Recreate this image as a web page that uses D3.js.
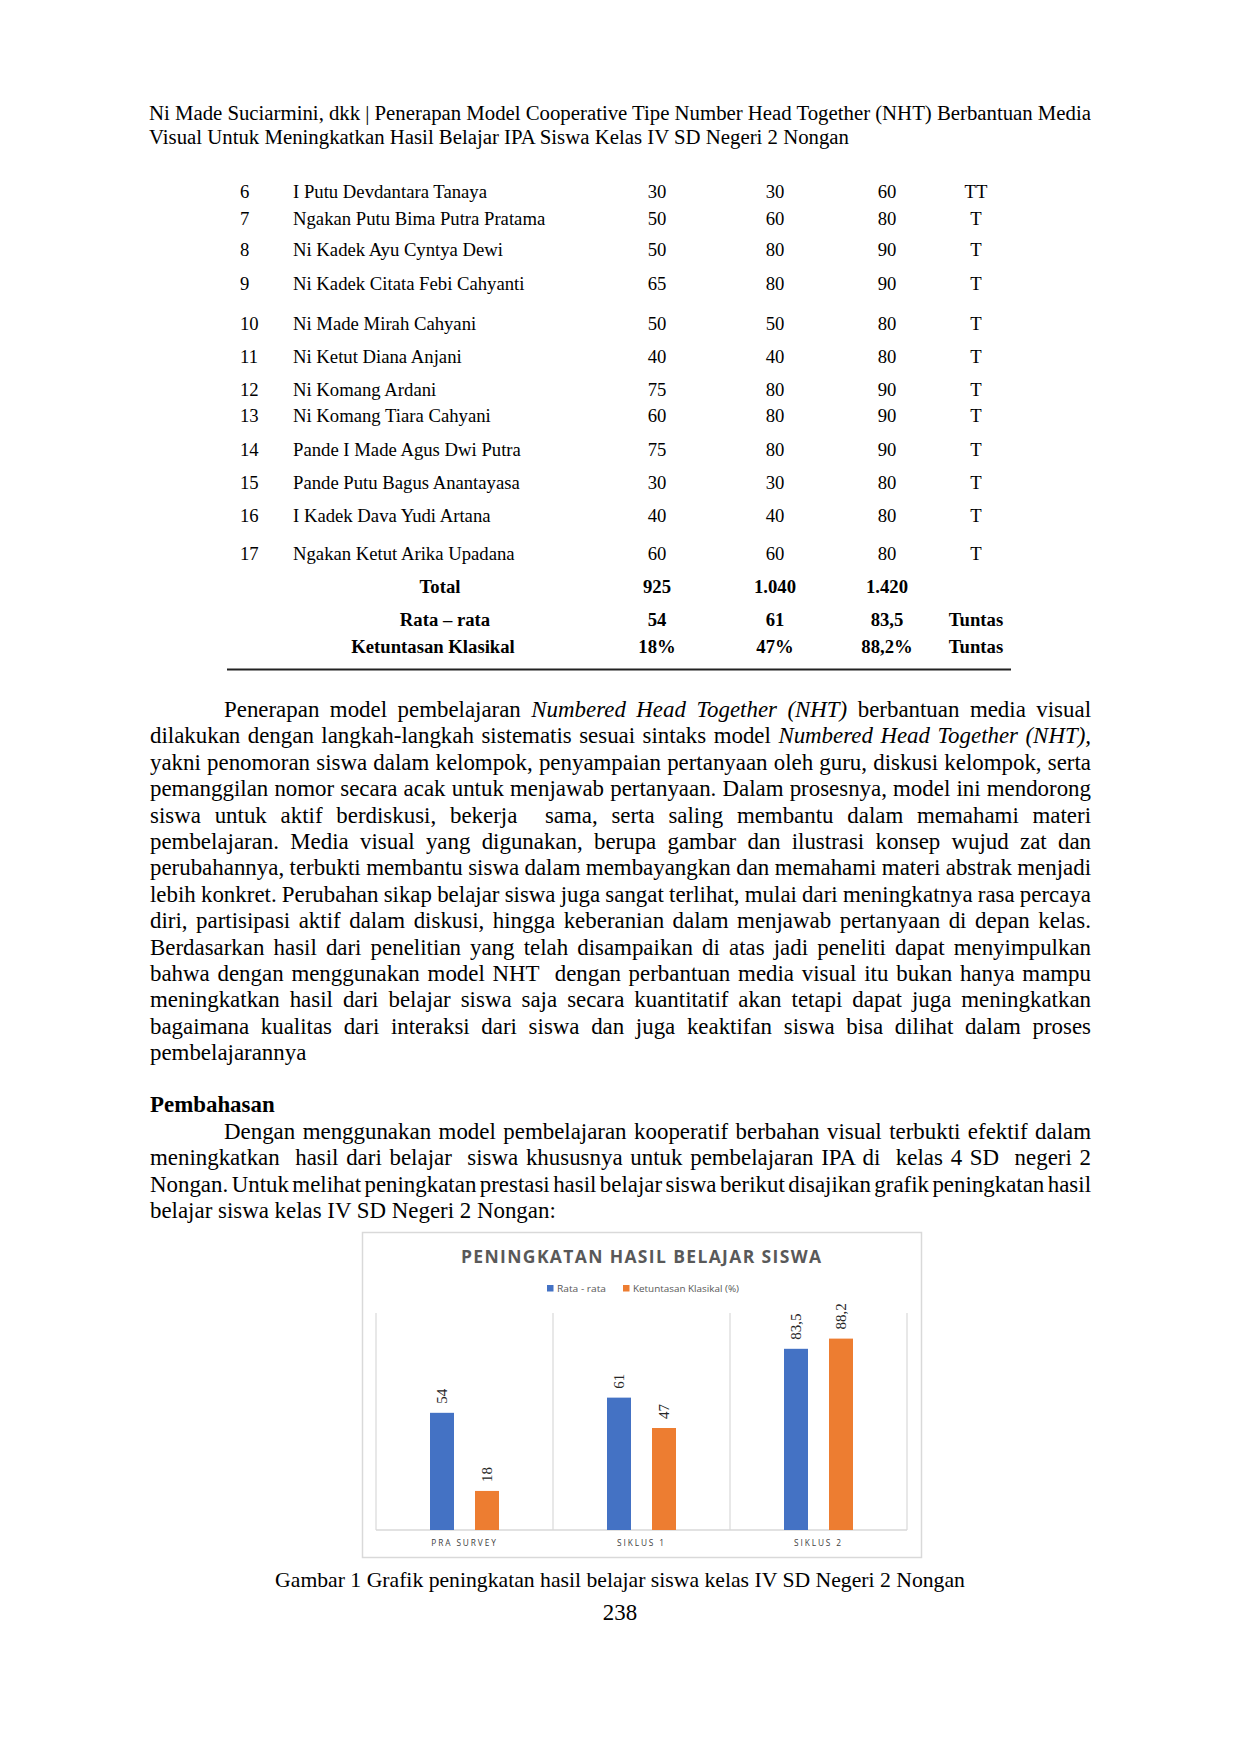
<!DOCTYPE html>
<html>
<head>
<meta charset="utf-8">
<script src="https://cdn.jsdelivr.net/npm/d3@7/dist/d3.min.js"></script>
<style>
  html, body { margin: 0; padding: 0; background: #fff; }
  svg { display: block; }
  text { white-space: pre; }
</style>
</head>
<body>
<script>
// ---------------- DATA ----------------
const headerLines = [
  "Ni Made Suciarmini, dkk | Penerapan Model Cooperative Tipe Number Head Together (NHT) Berbantuan Media",
  "Visual Untuk Meningkatkan Hasil Belajar IPA Siswa Kelas IV SD Negeri 2 Nongan"
];

const rowNumbers = [6, 7, 8, 9, 10, 11, 12, 13, 14, 15, 16, 17];
const studentNames = [
  "I Putu Devdantara Tanaya",
  "Ngakan Putu Bima Putra Pratama",
  "Ni Kadek Ayu Cyntya Dewi",
  "Ni Kadek Citata Febi Cahyanti",
  "Ni Made Mirah Cahyani",
  "Ni Ketut Diana Anjani",
  "Ni Komang Ardani",
  "Ni Komang Tiara Cahyani",
  "Pande I Made Agus Dwi Putra",
  "Pande Putu Bagus Anantayasa",
  "I Kadek Dava Yudi Artana",
  "Ngakan Ketut Arika Upadana"
];
const praSurveyScores = [30, 50, 50, 65, 50, 40, 75, 60, 75, 30, 40, 60];
const siklus1Scores   = [30, 60, 80, 80, 50, 40, 80, 80, 80, 30, 40, 60];
const siklus2Scores   = [60, 80, 90, 90, 80, 80, 90, 90, 90, 80, 80, 80];
const ketuntasanCodes = ["TT", "T", "T", "T", "T", "T", "T", "T", "T", "T", "T", "T"];

const summaryLabels = ["Total", "Rata \u2013 rata", "Ketuntasan Klasikal"];
const summaryTotal  = ["925", "1.040", "1.420", ""];
const summaryRata   = ["54", "61", "83,5", "Tuntas"];
const summaryKetunt = ["18%", "47%", "88,2%", "Tuntas"];

const paragraph1 = [
  "Penerapan model pembelajaran _Numbered Head Together (NHT)_ berbantuan media visual",
  "dilakukan dengan langkah-langkah sistematis sesuai sintaks model _Numbered Head Together (NHT),_",
  "yakni penomoran siswa dalam kelompok, penyampaian pertanyaan oleh guru, diskusi kelompok, serta",
  "pemanggilan nomor secara acak untuk menjawab pertanyaan. Dalam prosesnya, model ini mendorong",
  "siswa untuk aktif berdiskusi, bekerja  sama, serta saling membantu dalam memahami materi",
  "pembelajaran. Media visual yang digunakan, berupa gambar dan ilustrasi konsep wujud zat dan",
  "perubahannya, terbukti membantu siswa dalam membayangkan dan memahami materi abstrak menjadi",
  "lebih konkret. Perubahan sikap belajar siswa juga sangat terlihat, mulai dari meningkatnya rasa percaya",
  "diri, partisipasi aktif dalam diskusi, hingga keberanian dalam menjawab pertanyaan di depan kelas.",
  "Berdasarkan hasil dari penelitian yang telah disampaikan di atas jadi peneliti dapat menyimpulkan",
  "bahwa dengan menggunakan model NHT  dengan perbantuan media visual itu bukan hanya mampu",
  "meningkatkan hasil dari belajar siswa saja secara kuantitatif akan tetapi dapat juga meningkatkan",
  "bagaimana kualitas dari interaksi dari siswa dan juga keaktifan siswa bisa dilihat dalam proses",
  "pembelajarannya"
];
const sectionHeading = "Pembahasan";
const paragraph2 = [
  "Dengan menggunakan model pembelajaran kooperatif berbahan visual terbukti efektif dalam",
  "meningkatkan  hasil dari belajar  siswa khususnya untuk pembelajaran IPA di  kelas 4 SD  negeri 2",
  "Nongan. Untuk melihat peningkatan prestasi hasil belajar siswa berikut disajikan grafik peningkatan hasil",
  "belajar siswa kelas IV SD Negeri 2 Nongan:"
];
const captionText = "Gambar 1 Grafik peningkatan hasil belajar siswa kelas IV SD Negeri 2 Nongan";
const pageNumber = "238";

// Chart data
const chartTitle = "PENINGKATAN HASIL BELAJAR SISWA";
const categories = ["PRA SURVEY", "SIKLUS 1", "SIKLUS 2"];
const seriesNames = ["Rata - rata", "Ketuntasan Klasikal (%)"];
const rataRata = [54, 61, 83.5];
const ketuntasanKlasikal = [18, 47, 88.2];
const seriesColors = ["#4472c4", "#ed7d31"];

// ---------------- LAYOUT ----------------
const SERIF = "'Liberation Serif', 'Times New Roman', serif";
const SANS = "'Open Sans', 'Noto Sans', sans-serif";
const marginL = 150, marginR = 1091;

const svg = d3.select("body").append("svg")
  .attr("width", 1240).attr("height", 1754)
  .attr("viewBox", "0 0 1240 1754");
svg.append("rect").attr("width", 1240).attr("height", 1754).attr("fill", "#fff");

// text line helper with optional justification and italic runs (_..._)
function textLine(x, y, str, size, opts = {}) {
  const t = svg.append("text")
    .attr("x", x).attr("y", y)
    .attr("font-family", SERIF)
    .attr("font-size", size)
    .attr("fill", "#000")
    .attr("font-weight", opts.bold ? "bold" : null)
    .attr("text-anchor", opts.anchor || "start");
  const parts = str.split("_");
  parts.forEach((p, i) => {
    if (!p) return;
    t.append("tspan").text(p).attr("font-style", i % 2 === 1 ? "italic" : null);
  });
  if (opts.width) {
    const natural = t.node().getComputedTextLength();
    const spaces = (str.replace(/_/g, "").match(/ /g) || []).length;
    if (spaces > 0) t.attr("word-spacing", (opts.width - natural) / spaces);
  }
  return t;
}

// Header
textLine(149, 120, headerLines[0], 20.8, { width: 1091 - 149 });
textLine(149, 144, headerLines[1], 20.8);

// Table
const rowY = [197.5, 224.5, 256, 290, 329.5, 362.5, 395.5, 422, 456, 488.5, 521.5, 560];
const colX = [657, 775, 887, 976];
const tFs = 18.7;
rowNumbers.forEach((n, i) => {
  textLine(240, rowY[i], String(n), tFs);
  textLine(293, rowY[i], studentNames[i], tFs);
  [praSurveyScores[i], siklus1Scores[i], siklus2Scores[i], ketuntasanCodes[i]].forEach((v, j) => {
    textLine(colX[j], rowY[i], String(v), tFs, { anchor: "middle" });
  });
});
const sumY = [593, 625.5, 652.5];
const sumLabelX = [440, 445, 433];
[summaryTotal, summaryRata, summaryKetunt].forEach((row, r) => {
  textLine(sumLabelX[r], sumY[r], summaryLabels[r], tFs, { anchor: "middle", bold: true });
  row.forEach((v, j) => {
    if (v) textLine(colX[j], sumY[r], v, tFs, { anchor: "middle", bold: true });
  });
});
svg.append("line").attr("x1", 227).attr("x2", 1011).attr("y1", 669.5).attr("y2", 669.5)
  .attr("stroke", "#222").attr("stroke-width", 1.8);

// Paragraph 1
const bFs = 22.9, lead = 26.4;
paragraph1.forEach((ln, i) => {
  const first = i === 0, last = i === paragraph1.length - 1;
  const x = first ? 224 : marginL;
  textLine(x, 717 + i * lead, ln, bFs, last ? {} : { width: marginR - x });
});

// Heading + paragraph 2
textLine(marginL, 1112, sectionHeading, bFs, { bold: true });
paragraph2.forEach((ln, i) => {
  const first = i === 0, last = i === paragraph2.length - 1;
  const x = first ? 224 : marginL;
  textLine(x, 1139 + i * lead, ln, bFs, last ? {} : { width: marginR - x });
});

// Caption and page number
textLine(620, 1587, captionText, 21.7, { anchor: "middle" });
textLine(620, 1620, pageNumber, bFs, { anchor: "middle" });

// ---------------- CHART ----------------
const chart = svg.append("g");
chart.append("rect")
  .attr("x", 362.5).attr("y", 1232.5).attr("width", 559).attr("height", 325)
  .attr("fill", "#fff").attr("stroke", "#d9d9d9").attr("stroke-width", 1.5);

chart.append("text")
  .attr("x", 641).attr("y", 1263)
  .attr("text-anchor", "middle")
  .attr("font-family", SANS).attr("font-weight", "bold").attr("font-size", 17.5)
  .attr("fill", "#595959")
  .attr("textLength", 360).attr("lengthAdjust", "spacing")
  .text(chartTitle);

// legend
const legendX = [547, 623];
const legendW = [49, 106];
seriesNames.forEach((s, i) => {
  chart.append("rect").attr("x", legendX[i]).attr("y", 1285).attr("width", 6.5).attr("height", 6.5)
    .attr("fill", seriesColors[i]);
  chart.append("text").attr("x", legendX[i] + 10).attr("y", 1291.5)
    .attr("font-family", SANS).attr("font-size", 9).attr("fill", "#595959")
    .attr("textLength", legendW[i]).attr("lengthAdjust", "spacingAndGlyphs")
    .text(s);
});

const x = d3.scaleBand().domain(categories).range([376, 907]);
const xs = d3.scaleBand().domain(seriesNames).range([54, 123]).paddingInner(21 / 45);
const y = d3.scaleLinear().domain([0, 100]).range([1530, 1313]);

// category boundary gridlines
const bounds = categories.map(c => x(c)).concat([x.range()[1]]);
chart.selectAll("line.grid").data(bounds).enter().append("line")
  .attr("class", "grid")
  .attr("x1", d => d).attr("x2", d => d)
  .attr("y1", y(100)).attr("y2", y(0))
  .attr("stroke", "#d9d9d9").attr("stroke-width", 1.2);

chart.append("line")
  .attr("x1", x.range()[0]).attr("x2", x.range()[1])
  .attr("y1", y(0)).attr("y2", y(0))
  .attr("stroke", "#d9d9d9").attr("stroke-width", 1.3);

// bars
const seriesValues = [rataRata, ketuntasanKlasikal];
const fmt = v => String(v).replace(".", ",");
seriesNames.forEach((s, si) => {
  const g = chart.append("g");
  g.selectAll("rect").data(categories).enter().append("rect")
    .attr("x", c => x(c) + xs(s))
    .attr("y", (c, i) => y(seriesValues[si][i]))
    .attr("width", xs.bandwidth())
    .attr("height", (c, i) => y(0) - y(seriesValues[si][i]))
    .attr("fill", seriesColors[si]);
  g.selectAll("text").data(categories).enter().append("text")
    .attr("transform", (c, i) =>
      `translate(${x(c) + xs(s) + xs.bandwidth() / 2},${y(seriesValues[si][i]) - 9}) rotate(-90)`)
    .attr("dy", "0.33em")
    .attr("font-family", SERIF).attr("font-size", 15).attr("fill", "#262626")
    .text((c, i) => fmt(seriesValues[si][i]));
});

// category axis labels
const axis = chart.append("g").attr("transform", `translate(0,${y(0)})`)
  .call(d3.axisBottom(x).tickSize(0).tickPadding(10.5));
axis.select(".domain").remove();
axis.selectAll("text")
  .attr("font-family", SANS).attr("font-size", 8.3).attr("fill", "#404040")
  .attr("letter-spacing", 1.9);
</script>
</body>
</html>
